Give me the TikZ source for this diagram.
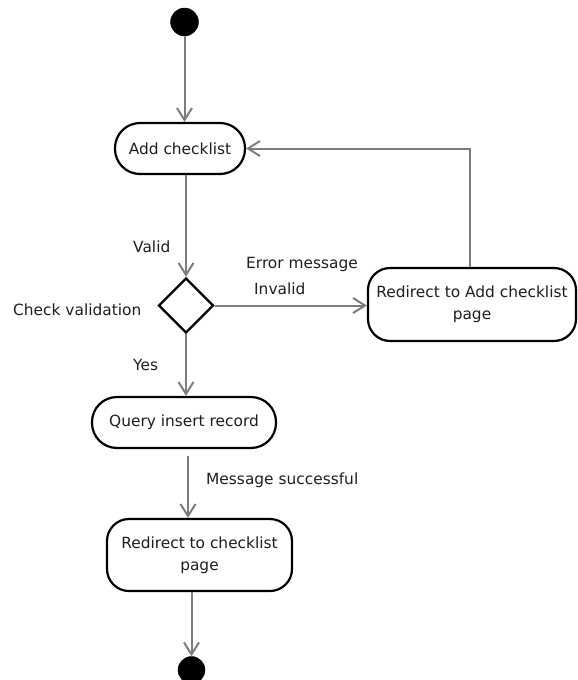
\documentclass[tikz,border=0pt]{standalone}
\usepackage{fontspec}
\setmainfont{DejaVu Sans}
\usetikzlibrary{arrows.meta,shapes.geometric}
\definecolor{conn}{RGB}{125,125,125}
\definecolor{txt}{RGB}{30,30,30}
\begin{document}
\begin{tikzpicture}[x=1pt,y=-1pt,
  every node/.style={font=\fontsize{15.4}{22}\selectfont, text=txt},
  act/.style={draw=black, line width=2.2pt, fill=white, rounded corners=22pt, inner sep=0pt, align=center},
  dot/.style={circle, fill=black, draw=black, inner sep=0pt},
  dec/.style={diamond, draw=black, line width=2.4pt, fill=white, inner sep=0pt, minimum width=55pt, minimum height=55pt},
  flow/.style={draw=conn, line width=2pt, -{Straight Barb[length=12pt,width=15pt]}},
  lbl/.style={inner sep=0pt, anchor=west, text height=11pt, text depth=3.5pt}]
\useasboundingbox (0,0) rectangle (578,680);

\node[dot, minimum size=28pt] (start) at (184.5,22) {};
\node[act, minimum width=130pt, minimum height=51pt, rounded corners=25pt] (add) at (180,148.5) {Add checklist};
\node[dec] (dia) at (186,305.5) {};
\node[act, minimum width=208pt, minimum height=73pt] (r1) at (472,304.5) {Redirect to Add checklist\\page};
\node[act, minimum width=184pt, minimum height=51pt, rounded corners=25pt] (q) at (184,422.5) {Query insert record};
\node[act, minimum width=185pt, minimum height=72pt] (r2) at (199.5,555) {Redirect to checklist\\page};
\node[dot, minimum size=27pt] (end) at (191.5,670) {};

\coordinate (qo) at ([xshift=4pt,yshift=-7pt]q.south);
\coordinate (r1o) at ([xshift=-2pt]r1.north);

\draw[flow] (start.south) -- (start.south |- add.north);
\draw[flow] (add.south -| dia.north) -- (dia.north);
\draw[flow] (dia.east) -- (dia.east -| r1.west);
\draw[flow] (r1o) |- (add.east);
\draw[flow] (dia.south) -- (dia.south |- q.north);
\draw[flow] (qo) -- (qo |- r2.north);
\draw[flow] (end.north |- r2.south) -- (end.north);

\node[lbl] (lvalid) at (133,249) {Valid};
\node[lbl] (lerr) at (246,265) {Error message};
\node[lbl] (linv) at (254,291) {Invalid};
\node[lbl] (lcheck) at (13,312) {Check validation};
\node[lbl] (lyes) at (133,367) {Yes};
\node[lbl] (lmsg) at (206,481) {Message successful};
\end{tikzpicture}
\end{document}
